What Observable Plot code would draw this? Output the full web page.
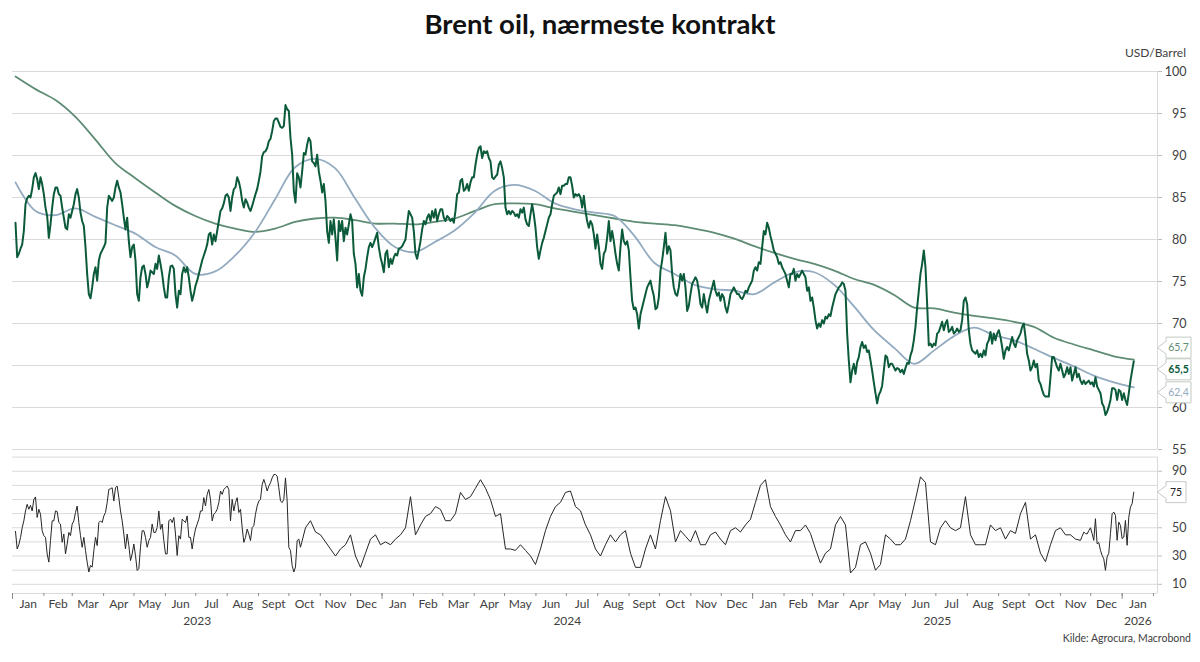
<!DOCTYPE html>
<html><head><meta charset="utf-8">
<script src="https://cdn.jsdelivr.net/npm/d3@7"></script>
<script src="https://cdn.jsdelivr.net/npm/@observablehq/plot@0.6"></script>
<style>
body{margin:0;background:#fff;}
#wrap{position:relative;width:1200px;height:662px;overflow:hidden;font-family:Lato,"Open Sans",sans-serif;}
#title{position:absolute;left:0;width:1200px;top:8px;text-align:center;font-weight:700;font-size:27.5px;line-height:32px;color:#111;z-index:2;}
#unit{position:absolute;right:14px;top:45px;font-size:12px;color:#404040;z-index:2;}
#source{position:absolute;right:9px;top:632px;font-size:10.5px;color:#404040;z-index:2;}
.p{position:absolute;left:0;}
</style></head><body>
<div id="wrap">
<div id="main" class="p" style="top:0"></div>
<div id="rsi" class="p" style="top:450px"></div>
<div id="title">Brent oil, nærmeste kontrakt</div>
<div id="unit">USD/Barrel</div>
<div id="source">Kilde: Agrocura, Macrobond</div>
</div>
<script>
// ---------- data ----------
const START = Date.UTC(2023, 0, 1), DAY = 864e5;
const dayToDate = d => new Date(START + d * DAY);
const xEndDay = 1130.9;

const monthNames = ["Jan","Feb","Mar","Apr","May","Jun","Jul","Aug","Sept","Oct","Nov","Dec"];
const mainTicks = [55, 60, 70, 75, 80, 85, 90, 95, 100];
const mainGrid = [55, 60, 65, 70, 75, 80, 85, 90, 95, 100];
const rsiTicks = [10, 30, 50, 90];
const rsiGrid = [10, 20, 30, 40, 50, 60, 70, 80, 90, 100];

// Brent price, sampled every ~1.65 days from 2023-01-03
const priceStartDay = 2.963, priceStepDays = 1.6461;
const priceValues = [
82.0,77.9,78.3,78.9,79.4,81.0,84.2,84.9,85.2,85.0,
86.0,87.4,87.9,87.2,86.0,87.4,86.6,85.4,83.8,82.8,
80.2,81.8,83.8,85.4,86.2,86.2,85.4,85.2,83.8,82.6,
81.4,81.2,83.0,82.6,83.4,84.2,85.4,86.0,85.0,83.2,
82.2,81.6,79.1,75.9,73.5,73.0,74.3,75.9,76.7,75.1,
77.5,78.3,78.7,79.1,79.6,83.8,85.2,84.9,84.6,85.0,
86.2,87.0,86.2,85.6,84.2,82.6,81.2,82.6,79.8,77.9,
79.1,79.4,77.5,73.5,72.7,75.5,76.7,76.9,75.9,74.3,
75.1,76.3,76.1,75.9,77.1,76.5,78.1,77.1,75.9,74.3,
73.1,73.1,75.5,76.8,76.9,76.5,73.5,71.9,73.9,73.5,
75.9,76.7,76.1,76.7,75.5,73.9,72.7,73.5,74.5,75.1,
75.9,76.7,77.5,78.1,78.7,79.4,80.6,80.8,79.4,80.6,
79.8,81.0,82.2,83.4,83.7,84.3,85.2,85.4,85.0,83.4,
85.0,86.0,86.2,87.4,86.9,86.0,84.6,83.8,84.8,84.4,
83.8,83.4,84.0,84.7,85.4,86.0,87.0,88.1,89.9,90.4,
90.5,90.9,91.7,92.0,92.9,94.1,94.4,94.4,93.9,93.4,
93.3,93.5,96.0,95.5,95.3,
92.1,90.1,85.8,84.4,87.9,87.4,86.2,88.1,90.3,90.1,
91.3,92.1,91.7,89.3,89.1,88.7,90.1,88.1,87.0,85.6,
86.6,84.6,81.0,79.6,82.2,80.6,82.4,80.2,77.5,82.2,
81.0,82.2,79.8,81.4,80.6,81.8,83.0,82.2,78.3,77.1,
74.3,75.9,73.9,73.3,75.5,76.5,77.9,79.1,79.6,79.1,
79.6,80.2,80.8,79.1,77.9,77.1,76.1,78.3,78.7,76.7,
77.7,77.1,77.9,78.3,78.1,78.9,79.0,79.2,79.6,80.0,
81.8,83.4,83.0,82.6,81.0,78.3,77.7,78.7,79.8,81.2,
82.2,81.8,82.6,83.0,82.2,83.4,82.6,83.6,82.2,83.0,
83.6,83.6,82.6,82.2,82.8,82.6,82.2,82.5,82.0,83.4,
85.4,85.6,87.0,87.2,85.8,86.0,86.6,85.8,86.8,87.4,
87.4,88.9,90.1,90.9,91.1,89.7,90.5,90.3,90.5,89.7,
89.3,87.4,87.2,87.5,87.7,88.9,89.3,88.5,87.4,83.8,
83.0,83.4,83.0,83.4,83.2,82.8,83.0,82.6,83.6,83.2,
83.8,82.4,81.8,81.6,83.0,84.2,83.0,81.4,79.1,77.7,
78.7,79.6,80.2,81.0,81.8,82.6,83.0,84.2,85.2,85.4,
85.6,86.2,85.4,86.4,86.4,86.6,86.6,87.4,
87.4,86.4,85.0,85.4,85.2,85.4,85.0,83.8,85.2,83.4,
82.2,81.4,82.2,81.8,80.6,78.9,80.6,79.1,77.1,76.5,
78.3,78.7,80.2,82.2,79.8,81.0,79.8,78.3,77.1,76.3,
79.1,81.2,79.8,79.4,79.8,78.7,75.5,72.7,71.7,71.9,
71.1,69.4,71.1,71.9,72.7,73.5,74.3,74.7,75.1,74.1,
73.3,71.7,71.9,73.1,76.3,77.5,79.1,80.8,78.3,79.2,
78.7,75.9,74.3,73.5,73.3,74.3,75.9,75.1,75.9,74.3,
71.5,72.1,73.5,74.7,75.1,75.5,75.1,73.9,72.3,71.9,
73.5,72.3,71.3,72.7,73.5,74.3,75.1,73.9,73.3,73.7,
72.7,73.5,73.1,71.9,71.3,72.3,73.5,73.9,74.3,73.9,
73.5,73.5,73.1,72.9,73.3,73.9,73.7,74.3,74.7,75.1,
76.3,76.7,76.3,77.3,77.1,79.1,81.0,80.6,82.0,81.4,
80.4,79.6,78.7,78.3,77.9,77.1,77.3,76.7,76.3,75.9,
75.1,74.3,75.9,75.9,76.5,75.1,75.9,75.5,75.9,76.3,
75.9,75.5,73.9,74.3,72.7,73.1,71.9,70.4,69.4,70.0,
69.6,70.4,70.0,70.8,70.6,71.1,70.9,71.9,72.7,73.5,
73.9,74.3,74.5,74.9,74.7,73.9,68.8,65.6,
63.0,64.4,65.2,64.0,65.4,66.0,67.2,67.8,67.1,67.4,
66.6,66.8,65.6,64.4,63.0,61.7,60.5,61.5,61.9,62.6,
64.4,66.2,66.0,64.8,65.2,65.2,64.8,64.4,64.7,64.6,
64.2,64.5,64.0,64.7,65.3,65.2,66.2,66.8,68.0,69.6,
71.9,73.9,75.9,77.1,78.7,76.7,72.3,67.4,67.6,67.2,
67.6,67.4,68.8,69.0,69.6,70.2,69.2,70.0,70.4,69.0,
69.2,69.6,68.8,69.0,69.4,69.0,69.2,70.4,72.7,73.1,
72.3,69.2,67.6,66.8,66.6,66.4,66.8,66.0,66.4,66.0,
66.8,66.2,67.6,68.0,69.0,67.6,68.8,68.0,68.8,69.2,
68.4,67.2,65.8,66.8,67.2,66.8,67.6,68.4,67.6,67.2,
68.0,68.4,68.8,69.6,70.0,68.4,66.4,65.6,64.4,64.8,
65.6,64.8,65.2,63.2,62.8,62.1,61.5,61.3,61.3,61.3,
63.6,66.0,66.0,65.4,64.8,64.4,65.2,64.4,63.6,64.0,
64.8,64.0,64.8,63.2,64.0,64.8,63.6,64.0,63.2,62.8,
63.2,62.8,63.0,63.2,62.8,63.0,62.5,63.6,62.5,62.1,
61.7,60.5,60.1,59.1,59.5,60.1,60.9,62.3,62.3,62.1,
60.9,62.1,61.9,60.9,61.7,60.9,60.3,61.7,63.2,64.4,
65.5
];

// Moving averages, sampled every ~19.7 days
const maStartDay = 2.963, maStepDays = 19.724;
const ma200Values = [
99.4,97.9,96.6,94.6,91.9,89.1,87.3,85.6,84.0,82.8,81.9,81.3,80.9,81.3,
82.1,82.5,82.6,82.3,81.9,81.9,81.8,82.1,82.5,83.4,84.2,84.3,84.2,83.7,
83.3,82.9,82.5,82.1,81.9,81.7,81.3,80.8,80.1,79.2,78.4,77.7,77.1,76.3,
75.3,74.6,73.4,71.9,71.8,71.3,70.9,70.6,70.2,69.6,68.3,67.5,66.8,66.1,65.7
];
const ma50Values = [
86.8,83.4,82.9,83.7,82.7,81.7,80.7,79.1,78.1,75.9,76.2,78.1,80.9,84.8,
88.6,89.6,88.5,84.9,81.4,79.1,78.5,79.7,81.1,83.2,85.8,86.5,85.8,84.3,
83.6,83.2,82.8,80.4,77.2,75.9,74.6,74.1,73.9,73.5,74.9,76.1,76.1,74.6,
72.0,69.2,67.1,65.2,66.8,68.5,69.5,68.6,68.0,67.0,65.9,64.9,63.8,63.0,62.4
];

// RSI, three reading segments
const rsiAStartDay = 2.963, rsiAStepDays = 1.6461;
const rsiAValues = [
47.4,35.0,38.1,43.0,50.0,54.9,61.9,66.6,63.1,65.9,
61.9,70.1,71.8,57.3,63.1,59.6,47.9,44.4,43.2,31.5,
25.7,40.9,54.9,54.9,61.9,61.5,53.7,52.6,39.7,45.6,
31.5,38.5,46.7,44.4,52.6,54.9,60.8,65.4,53.7,44.4,
36.2,43.2,33.9,25.7,18.7,23.3,22.2,33.9,43.2,37.4,
53.7,54.9,53.7,58.4,60.8,67.8,77.1,77.6,78.3,68.9,
78.3,79.5,71.3,61.9,54.9,45.6,35.0,45.6,37.4,26.8,
31.5,38.5,30.4,19.8,21.0,36.2,47.9,47.9,43.2,36.2,
40.9,43.2,52.6,46.7,46.7,50.2,61.9,48.9,52.6,40.9,
31.5,31.5,54.9,56.1,53.7,57.3,45.6,30.4,44.4,42.0,
56.1,54.9,53.7,58.4,43.2,43.2,35.0,43.2,49.1,52.6,
56.1,61.9,61.9,71.3,65.4,73.6,77.1,70.1,54.9,59.6,
60.8,63.1,67.8,76.0,73.6,77.1,78.3,79.5,77.1,54.9,
70.1,61.9,67.8,71.3,60.8,63.1,50.2,39.7,43.2,49.1,
45.6,40.9,50.2,51.4,59.6,65.4,68.9,70.1,80.6,84.2,
80.6,76.0,79.5,81.8,85.3,87.7,87.7,86.5,78.3,68.9,
67.8,70.1,85.3,68.9,36.2,33.9,23.3,18.7,22.2,40.9,
42.0,36.2
];
const rsiBStartDay = 289.38, rsiBStepDays = 4.9383;
const rsiBValues = [
50,55,47,45,40,35,30,35,38,45,
30,22,32,42,45,38,40,38,42,45,
50,72,45,52,58,60,65,63,55,55,
60,75,70,72,78,84,78,70,58,60,
35,35,34,38,34,30,24,35,48,58,
65,68,75,76,65,62,52,45,35,30,
38,45,40,45,48,32,22,22,35,45,
35,55,72,62,40,48,44,40,48,38,
38,45,47,42,38,48,50,47,52,56,
68,80,84,65,58,52,45,40,48,48,
52,46,35,25,32,35,52,58,52,18,
22,38,40,32,20,24,45,42,38,38,
42,55,70,86,82,40,38,50,55,50,
48,50,72,45,38,38,38,52,48,50,
42,48,46,60,68,42,45,32,26,38,
48,50,45,45,42
];
const rsiCStartDay = 1054.8, rsiCStepDays = 1.6461;
const rsiCValues = [
41.1,44.0,46.9,46.0,45.6,48.0,50.0,46.0,41.1,56.4,38.7,39.6,34.0,30.5,28.0,19.9,
29.4,32.0,45.8,59.9,61.1,58.8,41.1,54.0,51.7,42.3,43.4,55.2,37.6,57.5,64.6,67.0,75.2
];

// ---------- build ----------
const series = (start, step, values) => values.map((v, i) => ({date: dayToDate(start + i * step), value: v}));
const price = series(priceStartDay, priceStepDays, priceValues);
const ma200 = series(maStartDay, maStepDays, ma200Values);
const ma50 = series(maStartDay, maStepDays, ma50Values);
const rsi = [
  ...series(rsiAStartDay, rsiAStepDays, rsiAValues),
  ...series(rsiBStartDay, rsiBStepDays, rsiBValues),
  ...series(rsiCStartDay, rsiCStepDays, rsiCValues)
];

const xDomain = [dayToDate(0), dayToDate(xEndDay)];
const monthStarts = d3.utcMonth.range(xDomain[0], xDomain[1]);
const yearStarts = d3.utcYear.range(xDomain[0], xDomain[1]);
const monthLabels = d3.utcMonth.range(xDomain[0], d3.utcMonth.floor(xDomain[1])).map(d => {
  const n = d3.utcMonth.offset(d, 1);
  return {date: new Date((+d + +n) / 2), label: monthNames[d.getUTCMonth()]};
});
const yearLabels = yearStarts.map(d => {
  const end = new Date(Math.min(+d3.utcYear.offset(d, 1), +d3.utcMonth.floor(xDomain[1])));
  return {date: new Date((+d + +end) / 2), label: String(d.getUTCFullYear())};
});

const fmt = v => v.toFixed(1).replace(".", ",");
const C = {price: "#0b5a3a", ma200: "#5e8c74", ma50: "#93abc0", rsi: "#262626", grid: "#dadada", text: "#404040"};
const lastP = priceValues[priceValues.length - 1];
const last200 = ma200Values[ma200Values.length - 1];
const last50 = ma50Values[ma50Values.length - 1];
const lastRsi = rsiCValues[rsiCValues.length - 1];

// callout shape: pointer at origin, box to the right
function callout(w, h, p) {
  return {draw(ctx) {
    ctx.moveTo(0, 0);
    ctx.lineTo(p, -p * 0.75);
    ctx.lineTo(p, -h / 2);
    ctx.lineTo(p + w, -h / 2);
    ctx.lineTo(p + w, h / 2);
    ctx.lineTo(p, h / 2);
    ctx.lineTo(p, p * 0.75);
    ctx.closePath();
  }};
}
function calloutMarks(d, {w, h = 21, p = 8.5, dy = 0, color, weight = "normal"}) {
  return [
    Plot.dot([d], {x: "x", y: "y", symbol: callout(w, h, p), fill: "white", stroke: "#c3cac3", strokeWidth: 1, dy}),
    Plot.text([d], {x: "x", y: "y", text: "t", dx: p + w / 2, dy, fill: color, fontSize: 10.5, fontWeight: weight})
  ];
}

const style = {fontFamily: "Lato, 'Open Sans', sans-serif", fontSize: "12px", color: C.text, background: "transparent", overflow: "visible"};

const mainSvg = Plot.plot({
  width: 1200, height: 455, marginLeft: 12, marginRight: 43, marginTop: 71, marginBottom: 6,
  x: {type: "utc", domain: xDomain, axis: null},
  y: {domain: [55, 100], axis: null},
  style,
  marks: [
    Plot.ruleY(mainGrid, {stroke: C.grid, strokeWidth: 1}),
    Plot.ruleX([xDomain[1]], {stroke: C.grid}),
    Plot.axisY(mainTicks, {anchor: "right", tickSize: 4, tickPadding: 25, textAnchor: "end", stroke: "#bdbdbd", fill: C.text, fontSize: 12.5, label: null, tickFormat: d => String(d)}),
    Plot.line(ma200, {x: "date", y: "value", stroke: C.ma200, strokeWidth: 1.8, curve: "catmull-rom"}),
    Plot.line(ma50, {x: "date", y: "value", stroke: C.ma50, strokeWidth: 1.8, curve: "catmull-rom"}),
    Plot.line(price, {x: "date", y: "value", stroke: C.price, strokeWidth: 2}),
    ...calloutMarks({x: xDomain[1], y: last200, t: fmt(last200)}, {w: 25, dy: -12, color: C.ma200}),
    ...calloutMarks({x: xDomain[1], y: lastP, t: fmt(lastP)}, {w: 25, dy: 8, color: C.price, weight: "bold"}),
    ...calloutMarks({x: xDomain[1], y: last50, t: fmt(last50)}, {w: 25, dy: 5, color: C.ma50})
  ]
});

const rsiSvg = Plot.plot({
  width: 1200, height: 212, marginLeft: 12, marginRight: 43, marginTop: 6.6, marginBottom: 69,
  x: {type: "utc", domain: xDomain, axis: null},
  y: {domain: [3.5, 100], axis: null},
  style,
  marks: [
    Plot.ruleY(rsiGrid, {stroke: C.grid, strokeWidth: 1}),
    Plot.ruleY([3.5], {stroke: C.grid}),
    Plot.ruleX([xDomain[1]], {stroke: C.grid}),
    Plot.axisY(rsiTicks, {anchor: "right", tickSize: 4, tickPadding: 25, textAnchor: "end", stroke: "#bdbdbd", fill: C.text, fontSize: 12.5, label: null, tickFormat: d => String(d)}),
    Plot.ruleX(monthStarts, {x: d => d, y1: 3.5, y2: 3.5, insetBottom: -3, stroke: "#8c8c8c"}),
    Plot.ruleX(yearStarts, {x: d => d, y1: 3.5, y2: 3.5, insetBottom: -6, stroke: "#8c8c8c"}),
    Plot.text(monthLabels, {x: "date", text: "label", frameAnchor: "bottom", dy: 14, fill: C.text, fontSize: 12}),
    Plot.text(yearLabels, {x: "date", text: "label", frameAnchor: "bottom", dy: 31, fill: C.text, fontSize: 12}),
    Plot.line(rsi, {x: "date", y: "value", stroke: C.rsi, strokeWidth: 1}),
    ...calloutMarks({x: xDomain[1], y: lastRsi, t: String(Math.round(lastRsi))}, {w: 20, color: C.rsi})
  ]
});

document.getElementById("main").appendChild(mainSvg);
document.getElementById("rsi").appendChild(rsiSvg);
</script>
</body></html>
